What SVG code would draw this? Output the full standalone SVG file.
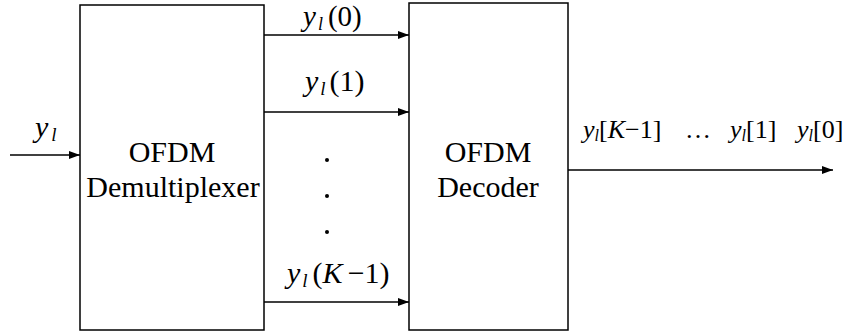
<svg xmlns="http://www.w3.org/2000/svg" width="847" height="335" viewBox="0 0 847 335">
<style>
.box{fill:#fff;stroke:#000;stroke-width:1.5}
.c{stroke:#000;stroke-width:1.3;fill:none}
.i{font-style:italic}
</style>
<defs>
<marker id="ah" markerWidth="11" markerHeight="8" refX="11" refY="4" orient="auto" markerUnits="userSpaceOnUse">
<path d="M0,0 L11,4 L0,8 Z" fill="#000"/>
</marker>
</defs>
<rect width="847" height="335" fill="#fff"/>
<g id="connectors">
<line class="c" x1="10" y1="155" x2="80" y2="155" marker-end="url(#ah)"/>
<line class="c" x1="264" y1="35" x2="409" y2="35" marker-end="url(#ah)"/>
<line class="c" x1="264" y1="112" x2="409" y2="112" marker-end="url(#ah)"/>
<line class="c" x1="264" y1="302" x2="409" y2="302" marker-end="url(#ah)"/>
<line class="c" x1="568" y1="170" x2="833" y2="170" marker-end="url(#ah)"/>
</g>
<g font-family="'Liberation Serif','Times New Roman',Times,serif" fill="#000">
<g id="demux">
<rect class="box" x="80" y="5" width="184" height="325"/>
<text x="172" y="162" font-size="30" text-anchor="middle">OFDM</text>
<text x="173" y="197" font-size="30" text-anchor="middle">Demultiplexer</text>
</g>
<g id="decoder">
<rect class="box" x="409" y="3" width="159" height="327"/>
<text x="488" y="162" font-size="30" text-anchor="middle">OFDM</text>
<text x="488" y="197" font-size="30" text-anchor="middle">Decoder</text>
</g>
<g id="labels">
<text x="35" y="137" font-size="30"><tspan class="i">y</tspan><tspan class="i" font-size="19" dx="3" dy="4">l</tspan></text>
<text x="303" y="26" font-size="29"><tspan class="i">y</tspan><tspan class="i" font-size="18" dx="2" dy="4">l</tspan><tspan dy="-4" dx="5">(0)</tspan></text>
<text x="305" y="91" font-size="30"><tspan class="i">y</tspan><tspan class="i" font-size="19" dx="2" dy="4">l</tspan><tspan dy="-4" dx="4">(1)</tspan></text>
<circle cx="327" cy="160" r="2"/>
<circle cx="327" cy="196" r="2"/>
<circle cx="327" cy="232" r="2"/>
<text x="287" y="283" font-size="30"><tspan class="i">y</tspan><tspan class="i" font-size="19" dx="2" dy="4">l</tspan><tspan dy="-4" dx="5">(</tspan><tspan class="i">K</tspan><tspan dx="5">−1)</tspan></text>
<text x="583" y="138" font-size="26"><tspan class="i">y</tspan><tspan class="i" font-size="16" dy="3">l</tspan><tspan dy="-3">[</tspan><tspan class="i">K</tspan><tspan>−1]</tspan></text>
<text x="685" y="138" font-size="26">…</text>
<text x="730" y="138" font-size="26"><tspan class="i">y</tspan><tspan class="i" font-size="16" dy="3">l</tspan><tspan dy="-3">[1]</tspan></text>
<text x="797" y="138" font-size="26"><tspan class="i">y</tspan><tspan class="i" font-size="16" dy="3">l</tspan><tspan dy="-3">[0]</tspan></text>
</g>
</g>
</svg>
